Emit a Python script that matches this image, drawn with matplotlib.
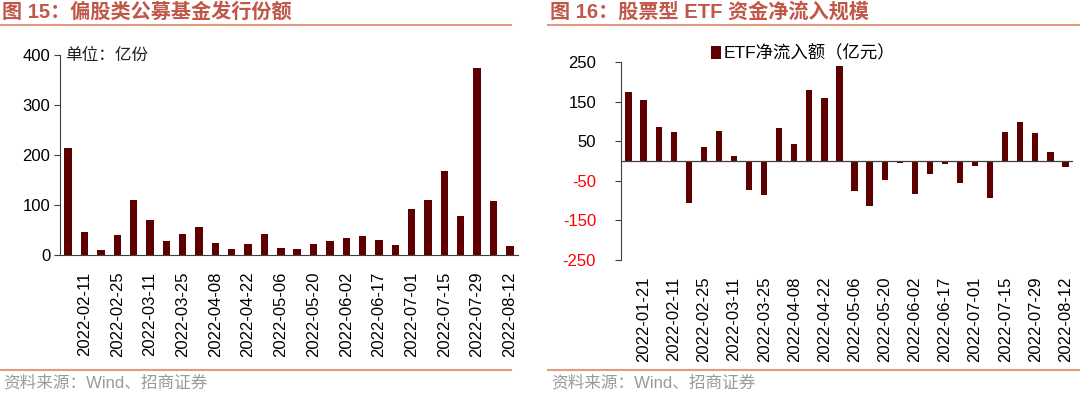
import numpy as np
import matplotlib
matplotlib.use("Agg")
import matplotlib.pyplot as plt
from matplotlib.lines import Line2D

plt.rcParams['font.family'] = ['Liberation Sans', 'Noto Sans CJK SC', 'DejaVu Sans']
plt.rcParams['axes.unicode_minus'] = False

# 图15 偏股类公募基金发行份额 (亿份), weekly
fund_labels = ['2022-02-11', '2022-02-25', '2022-03-11', '2022-03-25', '2022-04-08',
               '2022-04-22', '2022-05-06', '2022-05-20', '2022-06-02', '2022-06-17',
               '2022-07-01', '2022-07-15', '2022-07-29', '2022-08-12']
fund_issue = [215, 47, 11, 41, 111, 71, 29, 43, 57, 25, 13, 23, 42, 14,
              13, 23, 29, 34, 39, 30, 20, 92, 111, 168, 78, 375, 109, 19]

# 图16 股票型ETF资金净流入 (亿元), weekly
etf_labels = ['2022-01-21', '2022-02-11', '2022-02-25', '2022-03-11', '2022-03-25',
              '2022-04-08', '2022-04-22', '2022-05-06', '2022-05-20', '2022-06-02',
              '2022-06-17', '2022-07-01', '2022-07-15', '2022-07-29', '2022-08-12']
etf_flow = [173, 153, 86, 74, -105, 36, 75, 13, -74, -86, 83, 44, 180, 159, 239,
            -75, -114, -47, -4, -84, -34, -8, -56, -12, -93, 74, 98, 71, 22, -15]

bar_c = '#5E0000'
title_c = '#C0584A'
rule_c = '#E39A80'
W, H = 1080, 394

fig = plt.figure(figsize=(10.8, 3.94), dpi=100)


def box(x0, y0, x1, y1):
    # pixel box -> figure fraction
    return [x0 / W, 1 - y1 / H, (x1 - x0) / W, (y1 - y0) / H]


def hline(x0, x1, y, c, lw=1.5):
    fig.add_artist(Line2D([x0 / W, x1 / W], [1 - y / H, 1 - y / H],
                          color=c, lw=lw, transform=fig.transFigure))


# ---- left chart
ax1 = fig.add_axes(box(60, 55, 518, 255))
x1 = np.arange(1, len(fund_issue) + 1)
ax1.bar(x1, fund_issue, width=0.45, color=bar_c)
ax1.set_xlim(0.5, len(fund_issue) + 0.5)
ax1.set_ylim(0, 400)
ax1.set_yticks([0, 100, 200, 300, 400])
ax1.set_xticks(x1[1::2])
ax1.set_xticklabels(fund_labels, rotation=90)
for s in ['top', 'right']:
    ax1.spines[s].set_visible(False)
ax1.spines['left'].set_color('#404040')
ax1.spines['bottom'].set_color('#404040')
ax1.tick_params(axis='y', labelsize=12, length=4, width=0.8, pad=3, colors='#404040',
                labelcolor='black')
ax1.tick_params(axis='x', labelsize=12, length=0, pad=12)
ax1.text(0.012, 1.0, '单位：亿份', transform=ax1.transAxes, fontsize=12,
         va='center', ha='left', family=['Noto Sans CJK SC'], color='#202020')

# ---- right chart
ax2 = fig.add_axes(box(621, 62, 1073, 260))
x2 = np.arange(1, len(etf_flow) + 1)
ax2.bar(x2, etf_flow, width=0.42, color=bar_c, label='ETF净流入额（亿元）')
ax2.set_xlim(0.5, len(etf_flow) + 0.5)
ax2.set_ylim(-250, 250)
ax2.set_yticks([-250, -150, -50, 50, 150, 250])
ax2.set_xticks(x2[1::2])
ax2.set_xticklabels(etf_labels, rotation=90)
for s in ['top', 'right', 'bottom']:
    ax2.spines[s].set_visible(False)
ax2.spines['left'].set_color('#404040')
ax2.axhline(0, color='#404040', lw=0.9)
ax2.tick_params(axis='y', labelsize=12, length=4, width=0.8, pad=14, colors='#404040',
                labelcolor='black')
ax2.tick_params(axis='x', labelsize=12, length=0, pad=12)
for t in ax2.get_yticklabels():
    if t.get_text().startswith('-'):
        t.set_color('#FF0000')
leg = ax2.legend(loc='upper left', bbox_to_anchor=(0.18, 1.13), frameon=False,
                 fontsize=12.5, handlelength=0.6, handleheight=0.8, handletextpad=0.15,
                 borderpad=0)

# ---- titles, rules, sources
fig.text(2 / W, 1 - 12 / H, '图 15：偏股类公募基金发行份额', fontsize=14.5, weight='bold',
         color=title_c, va='center', ha='left')
fig.text(550 / W, 1 - 12 / H, '图 16：股票型 ETF 资金净流入规模', fontsize=14.5, weight='bold',
         color=title_c, va='center', ha='left')
hline(0, 511, 25, rule_c)
hline(548, 1080, 25, rule_c)
hline(0, 511, 370, rule_c)
hline(548, 1080, 370, rule_c)
fig.text(3 / W, 1 - 383 / H, '资料来源：Wind、招商证券', fontsize=12, color='#9A9A9A',
         va='center', ha='left')
fig.text(551 / W, 1 - 383 / H, '资料来源：Wind、招商证券', fontsize=12, color='#9A9A9A',
         va='center', ha='left')

fig.savefig('out.png', dpi=100)
